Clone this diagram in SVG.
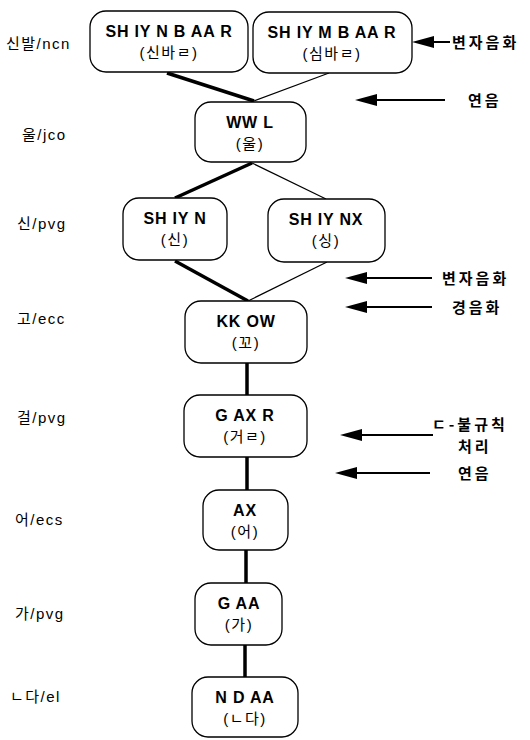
<svg xmlns="http://www.w3.org/2000/svg" width="530" height="740" viewBox="0 0 530 740">
<defs>
<style>
.node rect{fill:#fff;stroke:#000;stroke-width:1.3}
.t1{font-family:"Liberation Sans","Noto Sans CJK KR",sans-serif;font-size:16px;font-weight:bold;text-anchor:middle;fill:#000;letter-spacing:0.8px}
.t2{font-family:"Liberation Sans","Noto Sans CJK KR",sans-serif;font-size:15px;text-anchor:middle;fill:#000;letter-spacing:1.5px}
.lab{font-family:"Liberation Sans","Noto Sans CJK KR",sans-serif;font-size:15px;fill:#000;letter-spacing:1.5px}
.note{font-family:"Noto Sans CJK KR",sans-serif;font-size:15px;font-weight:bold;fill:#000;letter-spacing:3px}
.thick{stroke:#000;stroke-width:3.5;fill:none}
.thin{stroke:#000;stroke-width:1.2;fill:none}
.arr{stroke:#000;stroke-width:2;fill:none}
</style>
<marker id="ah" viewBox="0 0 22 12" refX="0" refY="6" markerWidth="22" markerHeight="12" markerUnits="userSpaceOnUse" orient="auto">
<path d="M22,6 L0,0 L0,12 Z" fill="#000"/>
</marker>
</defs>
<rect width="530" height="740" fill="#fff"/>

<g id="connectors">
<line class="thick" x1="167" y1="73" x2="254" y2="101"/>
<line class="thin" x1="329" y1="73" x2="254" y2="101"/>
<line class="thick" x1="252" y1="163" x2="175" y2="198"/>
<line class="thin" x1="252" y1="163" x2="326" y2="199"/>
<line class="thick" x1="175" y1="261" x2="248" y2="301"/>
<line class="thin" x1="327" y1="262" x2="248" y2="301"/>
<line class="thick" x1="247" y1="363" x2="247" y2="395"/>
<line class="thick" x1="247" y1="457" x2="247" y2="490"/>
<line class="thick" x1="246" y1="550" x2="246" y2="583"/>
<line class="thick" x1="245" y1="645" x2="245" y2="677"/>
</g>

<g id="n1" class="node"><rect x="90" y="11" width="158" height="61" rx="16"/><text class="t1" x="169" y="37">SH IY N B AA R</text><text class="t2" x="169" y="58">(신바ㄹ)</text></g>
<g id="n2" class="node"><rect x="253" y="12" width="159" height="61" rx="16"/><text class="t1" x="332" y="38">SH IY M B AA R</text><text class="t2" x="332" y="59">(심바ㄹ)</text></g>
<g id="n3" class="node"><rect x="195" y="102" width="111" height="60" rx="16"/><text class="t1" x="250" y="128">WW L</text><text class="t2" x="250" y="149">(울)</text></g>
<g id="n4" class="node"><rect x="123" y="198" width="104" height="62" rx="16"/><text class="t1" x="175" y="224">SH IY N</text><text class="t2" x="175" y="245">(신)</text></g>
<g id="n5" class="node"><rect x="268" y="199" width="117" height="63" rx="16"/><text class="t1" x="326" y="225">SH IY NX</text><text class="t2" x="326" y="246">(싱)</text></g>
<g id="n6" class="node"><rect x="185" y="301" width="122" height="62" rx="16"/><text class="t1" x="246" y="327">KK OW</text><text class="t2" x="246" y="348">(꼬)</text></g>
<g id="n7" class="node"><rect x="184" y="395" width="123" height="62" rx="16"/><text class="t1" x="245" y="421">G AX R</text><text class="t2" x="245" y="442">(거ㄹ)</text></g>
<g id="n8" class="node"><rect x="203" y="490" width="85" height="60" rx="16"/><text class="t1" x="245" y="516">AX</text><text class="t2" x="245" y="537">(어)</text></g>
<g id="n9" class="node"><rect x="195" y="583" width="87" height="62" rx="16"/><text class="t1" x="239" y="609">G AA</text><text class="t2" x="239" y="630">(가)</text></g>
<g id="n10" class="node"><rect x="192" y="677" width="106" height="60" rx="16"/><text class="t1" x="245" y="703">N D AA</text><text class="t2" x="245" y="724">(ㄴ다)</text></g>

<g id="labels">
<text class="lab" x="6" y="49">신발/ncn</text>
<text class="lab" x="22" y="140">울/jco</text>
<text class="lab" x="17" y="229">신/pvg</text>
<text class="lab" x="17" y="324">고/ecc</text>
<text class="lab" x="17" y="423">걸/pvg</text>
<text class="lab" x="15" y="525">어/ecs</text>
<text class="lab" x="15" y="619">가/pvg</text>
<text class="lab" x="10" y="702">ㄴ다/el</text>
</g>

<g id="annotations">
<line class="arr" x1="450" y1="42" x2="434" y2="42" marker-end="url(#ah)"/>
<text class="note" x="452" y="48">변자음화</text>
<line class="arr" x1="445" y1="100" x2="377" y2="100" marker-end="url(#ah)"/>
<text class="note" x="468" y="106">연음</text>
<line class="arr" x1="432" y1="278" x2="367" y2="278" marker-end="url(#ah)"/>
<text class="note" x="442" y="284">변자음화</text>
<line class="arr" x1="432" y1="307" x2="367" y2="307" marker-end="url(#ah)"/>
<text class="note" x="452" y="313">경음화</text>
<line class="arr" x1="433" y1="435" x2="362" y2="435" marker-end="url(#ah)"/>
<text class="note" x="432" y="430">ㄷ-불규칙</text>
<text class="note" x="458" y="452">처리</text>
<line class="arr" x1="430" y1="473" x2="357" y2="473" marker-end="url(#ah)"/>
<text class="note" x="458" y="479">연음</text>
</g>
</svg>
